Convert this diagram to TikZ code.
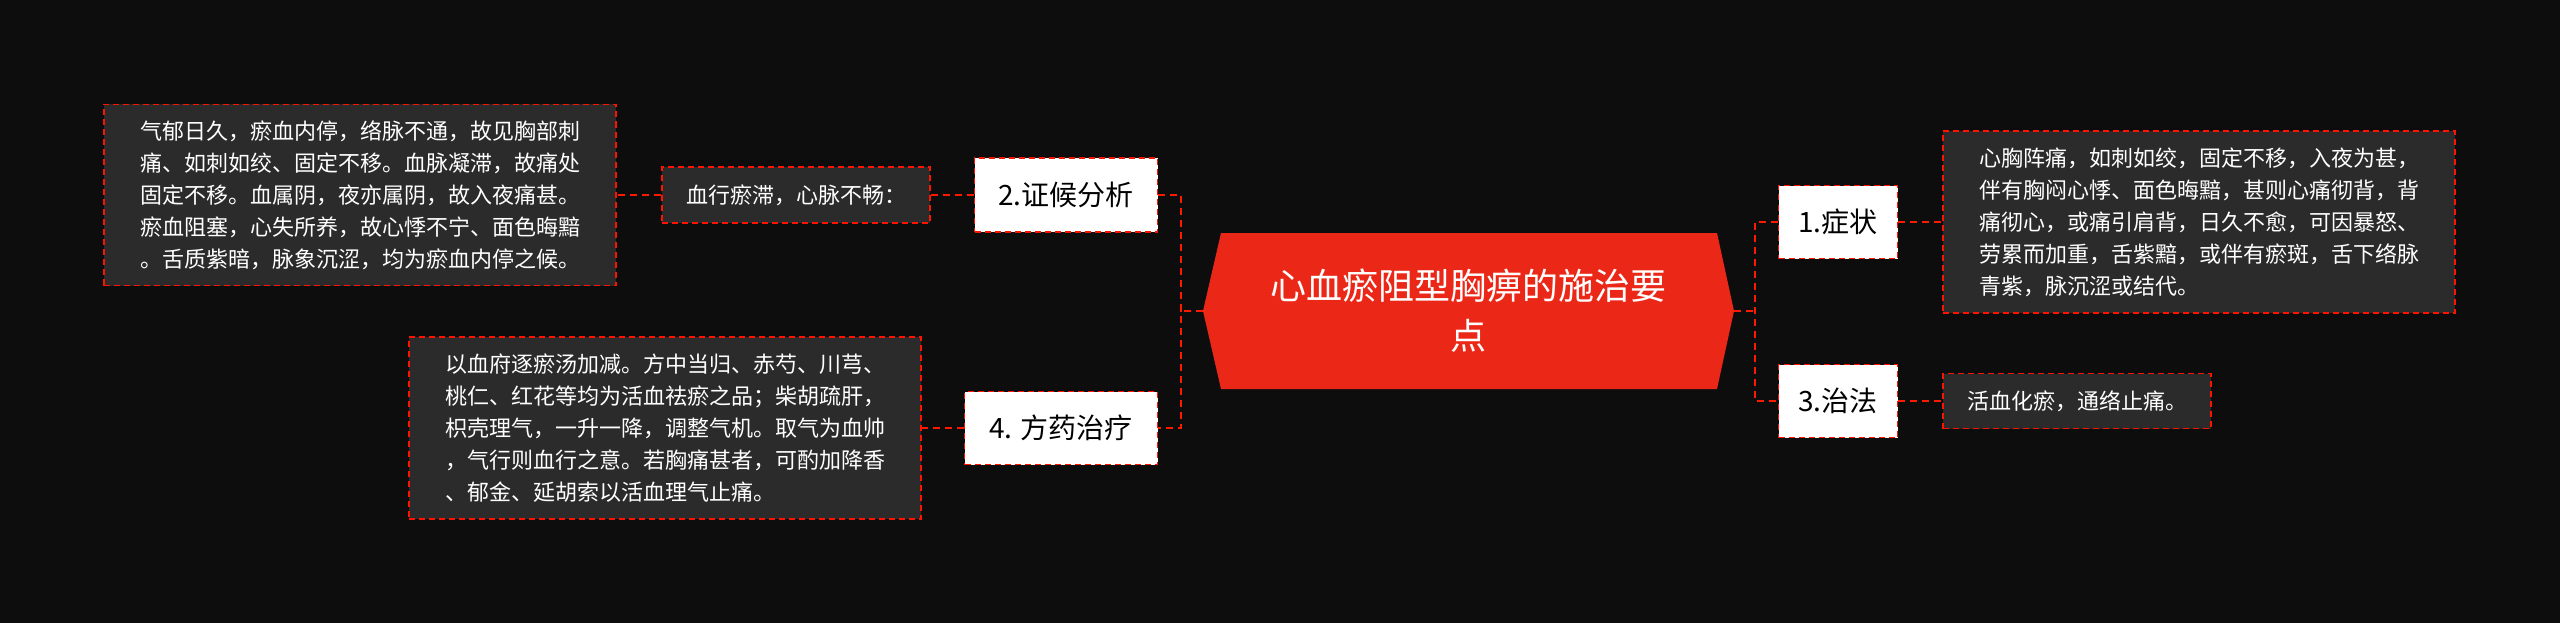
\documentclass[tikz,border=0pt]{standalone}
\usepackage{fontspec}
\setmainfont{Noto Sans CJK SC}
\begin{document}
\begin{tikzpicture}[x=1pt,y=-1pt,
  dash/.style={},
  conn/.style={draw=red!80!orange, line width=2.2pt, dash pattern=on 7pt off 5pt},
  txtbox/.style={draw=red!85!orange, fill=black!83, line width=1.6pt, dash pattern=on 6pt off 4pt, text=white, font=\fontsize{22}{32}\selectfont, align=left, inner sep=0pt},
  topic/.style={draw=red!85!orange, fill=white, line width=1.6pt, dash pattern=on 6pt off 4pt, text=black, font=\fontsize{28}{34}\selectfont, inner sep=0pt}]
\fill[black!95] (0,0) rectangle (2560,623);
\useasboundingbox (0,0) rectangle (2560,623);
% central
\fill[fill={rgb,255:red,235;green,40;blue,24}] (1203,311) -- (1221,233) -- (1717,233) -- (1734,311) -- (1717,389) -- (1221,389) -- cycle;
\node[text=white, font=\fontsize{36}{50}\selectfont, align=center] (c) at (1468,311) {心血瘀阻型胸痹的施治要\\点};
\coordinate (cl) at (1203,311);
\coordinate (cr) at (1734,311);
% right
\node[topic, minimum width=119, minimum height=73] (t1) at (1838,222) {1.症状};
\node[topic, minimum width=119, minimum height=73] (t3) at (1838,401) {3.治法};
\node[txtbox, minimum width=512, minimum height=182] (b1) at (2199,222) {心胸阵痛，如刺如绞，固定不移，入夜为甚，\\伴有胸闷心悸、面色晦黯，甚则心痛彻背，背\\痛彻心，或痛引肩背，日久不愈，可因暴怒、\\劳累而加重，舌紫黯，或伴有瘀斑，舌下络脉\\青紫，脉沉涩或结代。};
\node[txtbox, minimum width=268, minimum height=55] (b3) at (2077,401) {活血化瘀，通络止痛。};
% left
\node[topic, minimum width=183, minimum height=74] (t2) at (1066,195) {2.证候分析};
\node[topic, minimum width=193, minimum height=73] (t4) at (1061,428) {4. 方药治疗};
\node[txtbox, minimum width=268, minimum height=56] (b2m) at (796,195) {血行瘀滞，心脉不畅：};
\node[txtbox, minimum width=512, minimum height=181] (b2) at (360,195) {气郁日久，瘀血内停，络脉不通，故见胸部刺\\痛、如刺如绞、固定不移。血脉凝滞，故痛处\\固定不移。血属阴，夜亦属阴，故入夜痛甚。\\瘀血阻塞，心失所养，故心悸不宁、面色晦黯\\。舌质紫暗，脉象沉涩，均为瘀血内停之候。};
\node[txtbox, minimum width=512, minimum height=182] (b4) at (665,428) {以血府逐瘀汤加减。方中当归、赤芍、川芎、\\桃仁、红花等均为活血祛瘀之品；柴胡疏肝，\\枳壳理气，一升一降，调整气机。取气为血帅\\，气行则血行之意。若胸痛甚者，可酌加降香\\、郁金、延胡索以活血理气止痛。};
% connectors
\draw[conn] (cr) -- (1755,311);
\draw[conn] (t1.west) -| (1755,311) |- (t3.west);
\draw[conn] (t1.east) -- (b1.west);
\draw[conn] (t3.east) -- (b3.west);
\draw[conn] (cl) -- (1181,311);
\draw[conn] (t2.east) -| (1181,311) |- (t4.east);
\draw[conn] (t2.west) -- (b2m.east);
\draw[conn] (b2m.west) -- (b2.east);
\draw[conn] (t4.west) -- (b4.east);
\end{tikzpicture}
\end{document}
